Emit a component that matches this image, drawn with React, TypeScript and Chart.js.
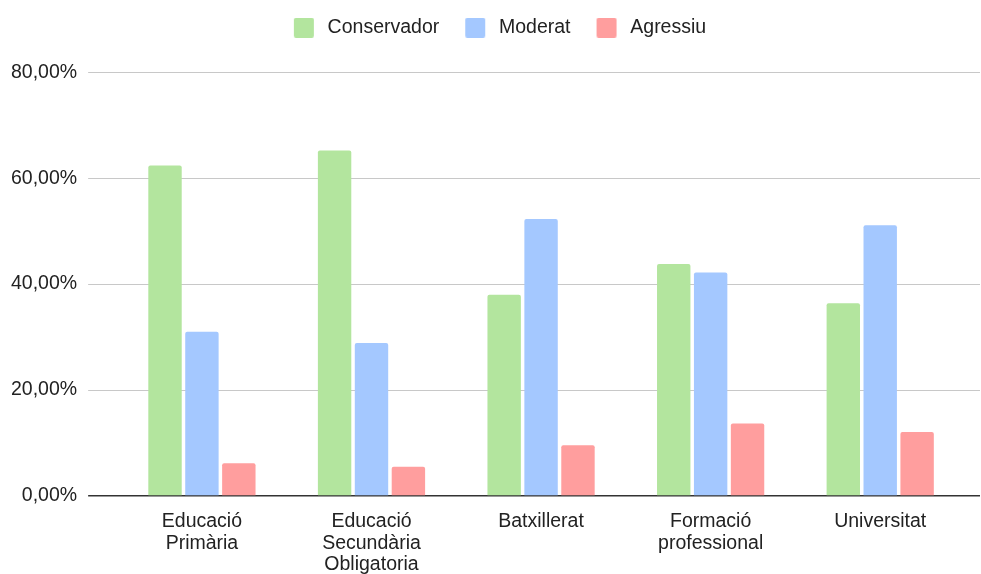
import React, { useEffect, useRef } from "react";
import { Chart, registerables } from "chart.js";

Chart.register(...registerables);

const categories: (string | string[])[] = [
  ["Educació", "Primària"],
  ["Educació", "Secundària", "Obligatoria"],
  "Batxillerat",
  ["Formació", "professional"],
  "Universitat",
];
const seriesNames = ["Conservador", "Moderat", "Agressiu"];
const conservador = [62.4, 65.2, 38.0, 43.8, 36.4];
const moderat = [31.0, 28.9, 52.3, 42.2, 51.1];
const agressiu = [6.2, 5.5, 9.6, 13.7, 12.1];
const yTickValues = [0, 20, 40, 60, 80];

const COLORS = ["#b3e59e", "#a4c8ff", "#ff9e9e"];
const FONT = "'Liberation Sans', Arial, Helvetica, sans-serif";
const FONT_SIZE = 19.5;
const TEXT = "#222222";

function makeSwatch(color: string): HTMLCanvasElement {
  const c = document.createElement("canvas");
  c.width = 44;
  c.height = 20;
  const g = c.getContext("2d")!;
  g.fillStyle = color;
  g.beginPath();
  (g as any).roundRect ? (g as any).roundRect(20, 0, 20, 20, 2) : g.rect(20, 0, 20, 20);
  g.fill();
  return c;
}

const fmt = (v: number) => v.toFixed(2).replace(".", ",") + "%";

export default function App() {
  const ref = useRef<HTMLCanvasElement>(null);

  useEffect(() => {
    document.body.style.margin = "0";
    const canvas = ref.current;
    if (!canvas) return;

    const gridColor = (c: any) => (c.tick && c.tick.value === 0 ? "#333333" : "#c8c8c8");
    const gridWidth = (c: any) => (c.tick && c.tick.value === 0 ? 1.5 : 1);

    const series = [conservador, moderat, agressiu];

    const chart = new Chart(canvas, {
      type: "bar",
      data: {
        labels: categories,
        datasets: series.map((d, i) => ({
          label: seriesNames[i],
          data: d,
          backgroundColor: COLORS[i],
          borderWidth: 0,
          borderRadius: 2,
          categoryPercentage: 0.653,
          barPercentage: 0.905,
          pointStyle: makeSwatch(COLORS[i]),
        })) as any,
      },
      options: {
        responsive: false,
        animation: false,
        devicePixelRatio: 1,
        layout: { padding: { top: 12, right: 1, left: 0, bottom: 0 } },
        font: { family: FONT, size: FONT_SIZE },
        plugins: {
          legend: {
            position: "top",
            labels: {
              usePointStyle: true,
              pointStyleWidth: 44,
              padding: 6,
              color: TEXT,
              font: { family: FONT, size: FONT_SIZE },
            },
          },
          title: {
            display: true,
            text: "",
            position: "top",
            weight: 500,
            padding: { top: 23.5, bottom: 0 },
            font: { size: 1, lineHeight: 1.2 },
          },
          tooltip: { enabled: false },
        },
        scales: {
          x: {
            grid: { display: false, drawTicks: false },
            border: { display: false },
            ticks: {
              color: TEXT,
              padding: 15,
              maxRotation: 0,
              autoSkip: false,
              font: { family: FONT, size: FONT_SIZE, lineHeight: 1.1 },
            },
            afterFit: (s: any) => {
              s.height = 78;
            },
          },
          y: {
            min: 0,
            max: 80,
            afterBuildTicks: (s: any) => {
              s.ticks = yTickValues.map((v) => ({ value: v }));
            },
            grid: {
              color: gridColor,
              tickColor: gridColor,
              lineWidth: gridWidth,
              drawTicks: true,
              tickLength: 29,
            },
            border: { display: false },
            ticks: {
              color: TEXT,
              padding: 11,
              font: { family: FONT, size: FONT_SIZE },
              callback: (v: any) => fmt(Number(v)),
            },
          },
          y2: {
            position: "right",
            min: 0,
            max: 80,
            afterBuildTicks: (s: any) => {
              s.ticks = yTickValues.map((v) => ({ value: v }));
            },
            grid: {
              drawOnChartArea: false,
              drawTicks: true,
              tickLength: 15,
              color: gridColor,
              tickColor: gridColor,
              lineWidth: gridWidth,
            },
            border: { display: false },
            ticks: { display: false },
          },
        },
      } as any,
    });

    return () => chart.destroy();
  }, []);

  return (
    <div style={{ width: 981, height: 574 }}>
      <canvas ref={ref} width={981} height={574} style={{ display: "block" }} />
    </div>
  );
}
